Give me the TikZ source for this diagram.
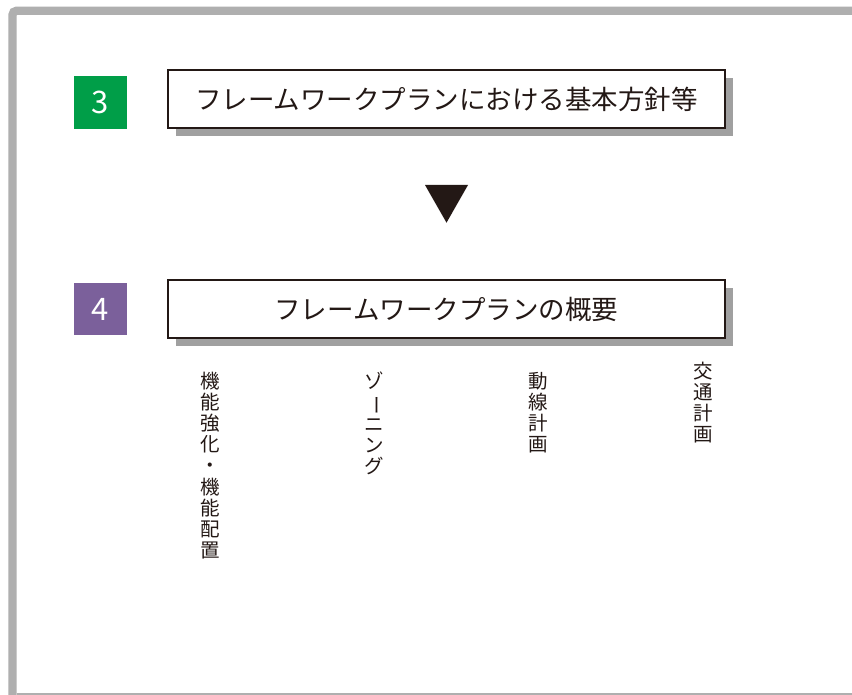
\documentclass[tikz,border=0pt]{standalone}
\usepackage{fontspec}
\usepackage{graphicx}
\usetikzlibrary{shadows}
\newfontfamily\jp{Noto Sans CJK JP}
\definecolor{ink}{HTML}{231815}
\definecolor{framegray}{HTML}{AFAFAF}
\definecolor{shadowgray}{HTML}{A0A0A0}
\definecolor{numgreen}{HTML}{009E48}
\definecolor{numpurple}{HTML}{7B609B}
\newcommand{\vbar}{\rotatebox[origin=c]{-90}{ー}}
\begin{document}
\begin{tikzpicture}[x=1pt,y=-1pt,
  titlebox/.style={draw=ink, line width=2pt, fill=white, minimum height=58pt,
    inner sep=0pt, text=ink, font=\jp\fontsize{26.5}{30}\selectfont,
    general shadow={fill=shadowgray, shadow xshift=8pt, shadow yshift=-8pt}},
  numbox/.style={minimum width=53pt, minimum height=53pt, inner sep=0pt,
    text=white, font=\jp\fontsize{31}{32}\selectfont},
  vtext/.style={anchor=north, inner sep=0pt, align=center, text=ink,
    font=\jp\fontsize{19.5}{21.1}\selectfont}]
\useasboundingbox (0,0) rectangle (852,695);
\fill[white] (0,0) rectangle (852,695);
% frame
\draw[framegray, line width=8.3pt, rounded corners=4pt] (12.5,705) -- (12.5,10.8) -- (870,10.8);
\draw[framegray, line width=1.5pt] (16.7,694) -- (852,694);
% row 3
\node[numbox, fill=numgreen] (n3) at (100.5,102.5) {3};
\node[titlebox, minimum width=556.4pt] (t3) at (446.5,99.3) {フレームワークプランにおける基本方針等};
% arrow
\coordinate (al) at (425,185);
\coordinate (ar) at (468,185);
\coordinate (ab) at (446.5,222.7);
\fill[ink] (al) -- (ar) -- (ab) -- cycle;
% row 4
\node[numbox, fill=numpurple, minimum height=52pt] (n4) at (100.5,309) {4};
\node[titlebox, minimum width=557.3pt] (t4) at (446.3,309.3) {フレームワークプランの概要};
% vertical labels
\node[vtext] (v1) at (210,372) {機\\能\\強\\化\\・\\機\\能\\配\\置};
\node[vtext] (v2) at (374,372) {ゾ\\\vbar\\ニ\\ン\\グ};
\node[vtext] (v3) at (538,372) {動\\線\\計\\画};
\node[vtext] (v4) at (703,362) {交\\通\\計\\画};
\end{tikzpicture}
\end{document}
